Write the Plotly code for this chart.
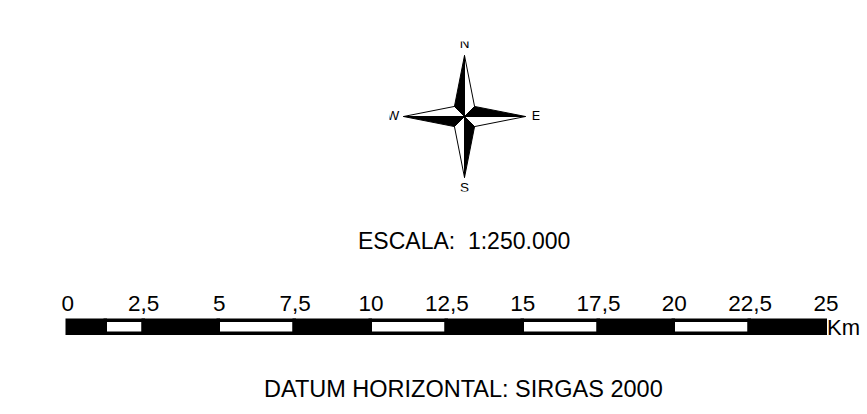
import plotly.graph_objects as go

# ---- data ----
tick_values = [0, 2.5, 5, 7.5, 10, 12.5, 15, 17.5, 20, 22.5, 25]
tick_labels = ["0", "2,5", "5", "7,5", "10", "12,5", "15", "17,5", "20", "22,5", "25"]
seg_starts = [0, 1.25, 2.5, 5, 7.5, 10, 12.5, 15, 17.5, 20, 22.5]
seg_ends = [1.25, 2.5, 5, 7.5, 10, 12.5, 15, 17.5, 20, 22.5, 25]
seg_colors = ["black", "white", "black", "white", "black", "white", "black", "white", "black", "white", "black"]
unit_label = "Km"
scale_text = "ESCALA:\u00a0\u00a01:250.000"
datum_text = "DATUM HORIZONTAL: SIRGAS 2000"
directions = ["N", "E", "S", "W"]
dir_vectors = [(0, 1), (1, 0), (0, -1), (-1, 0)]

FONT = "Liberation Sans, Arial, sans-serif"
W, H = 867, 414

fig = go.Figure()

# ---- scale bar (km axis) ----
fig.add_trace(go.Bar(
    y=[0] * len(seg_starts),
    x=[e - s for s, e in zip(seg_starts, seg_ends)],
    base=seg_starts,
    orientation="h",
    width=13.3,
    marker=dict(color=seg_colors, line=dict(color="black", width=3.5)),
    hoverinfo="skip",
    xaxis="x", yaxis="y",
))
fig.add_trace(go.Scatter(
    x=tick_values, y=[22.3] * len(tick_values), mode="text",
    text=tick_labels, textposition="middle center",
    textfont=dict(family=FONT, size=22.5, color="black"),
    hoverinfo="skip", xaxis="x", yaxis="y",
))

# ---- compass rose ----
s = 0.165
bx, by, wx, wy = [], [], [], []
for (dx, dy) in dir_vectors:
    px, py = -dy, dx  # counter-clockwise side (black)
    bx += [0, dx, s * (dx + px), 0, None]
    by += [0, dy, s * (dy + py), 0, None]
    wx += [0, dx, s * (dx - px), 0, None]
    wy += [0, dy, s * (dy - py), 0, None]
fig.add_trace(go.Scatter(x=wx, y=wy, mode="lines", fill="toself", fillcolor="white",
                         line=dict(color="black", width=1), hoverinfo="skip",
                         xaxis="x2", yaxis="y2"))
fig.add_trace(go.Scatter(x=bx, y=by, mode="lines", fill="toself", fillcolor="black",
                         line=dict(color="black", width=1), hoverinfo="skip",
                         xaxis="x2", yaxis="y2"))
lab_r = 1.175
fig.add_trace(go.Scatter(
    x=[dx * lab_r for dx, dy in dir_vectors], y=[dy * lab_r for dx, dy in dir_vectors],
    mode="text", text=directions, textposition="middle center",
    textfont=dict(family=FONT, size=13.5, color="black"),
    hoverinfo="skip", xaxis="x2", yaxis="y2",
))

# ---- annotations ----
fig.add_annotation(x=25, y=0, xref="x", yref="y", text=unit_label, showarrow=False,
                   xanchor="left", yanchor="middle", xshift=-1,
                   font=dict(family=FONT, size=22, color="black"))
fig.add_annotation(x=464 / W, y=1 - 240.5 / H, xref="paper", yref="paper", text=scale_text,
                   showarrow=False, xanchor="center", yanchor="middle",
                   font=dict(family=FONT, size=23, color="black"))
fig.add_annotation(x=463.5 / W, y=1 - 388.5 / H, xref="paper", yref="paper", text=datum_text,
                   showarrow=False, xanchor="center", yanchor="middle",
                   font=dict(family=FONT, size=23.5, color="black"))

px_per_km = (826 - 67.7) / 25
cx, cy, half = 464.5, 116.5, 75
arm = 61.0
fig.update_layout(
    width=W, height=H, margin=dict(l=0, r=0, t=0, b=0),
    paper_bgcolor="white", plot_bgcolor="white", showlegend=False,
    xaxis=dict(range=[-67.7 / px_per_km, (W - 67.7) / px_per_km], visible=False, domain=[0, 1]),
    yaxis=dict(range=[327.3 - H, 327.3], visible=False, domain=[0, 1]),
    xaxis2=dict(range=[-half / arm, half / arm], visible=False,
                domain=[(cx - half) / W, (cx + half) / W], anchor="y2"),
    yaxis2=dict(range=[-half / arm, half / arm], visible=False,
                domain=[1 - (cy + half) / H, 1 - (cy - half) / H], anchor="x2"),
    bargap=0,
)

fig.write_html("out.html", config={"displayModeBar": False},
               post_script="document.body.style.margin='0px';document.body.style.overflow='hidden';")
